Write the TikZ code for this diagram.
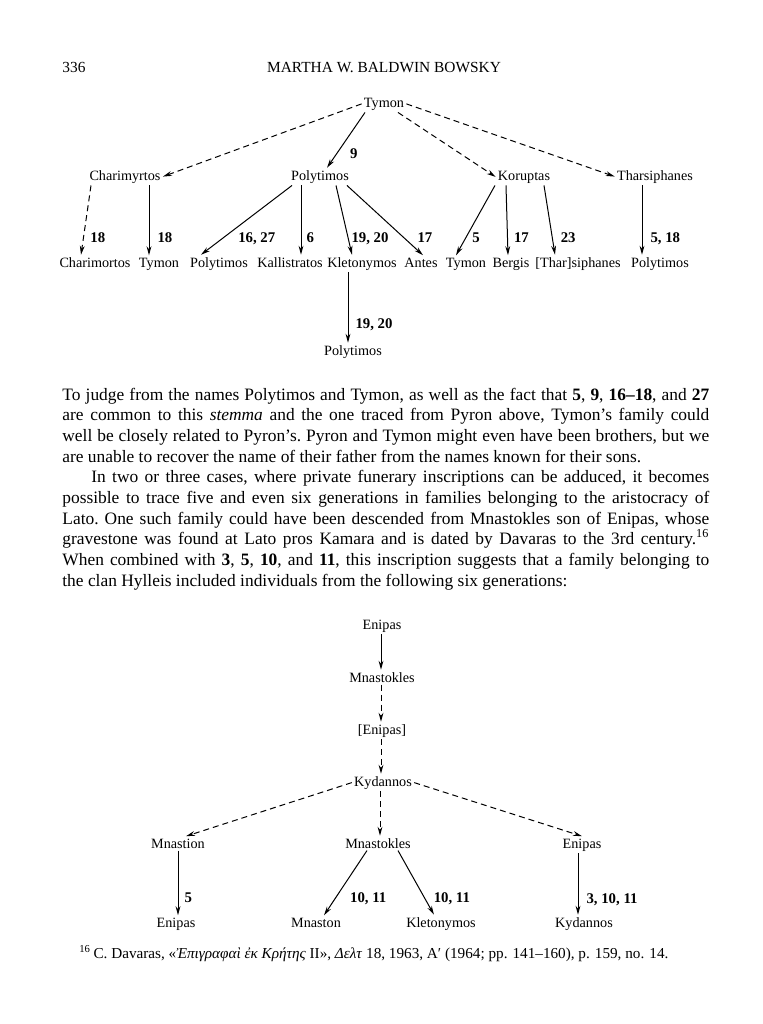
\documentclass[tikz,border=0pt]{standalone}
\usepackage{fontspec}
\setmainfont{Liberation Serif}
\usetikzlibrary{arrows.meta}

\tikzset{
  head/.style={inner sep=0pt, anchor=base, font=\fontsize{7.7}{9}\selectfont},
  person/.style={inner sep=1pt, anchor=base, font=\fontsize{7.1}{9}\selectfont},
  nr/.style={inner sep=1pt, text depth=0pt, font=\fontsize{7.4}{9}\selectfont\bfseries},
  child/.style={-{Stealth[length=4.5pt,width=2.4pt]}, line width=.5pt},
  maybe/.style={child, dash pattern=on 3pt off 2pt},
  body/.style={inner sep=0pt, anchor=base west, text width=323.5pt, align=justify,
    font=\fontsize{8.7}{10.35}\selectfont\frenchspacing},
}

\begin{document}
\begin{tikzpicture}[x=0.5pt,y=-0.5pt]
  \useasboundingbox (0,0) rectangle (762,1024);

  % running head
  \node[head, anchor=base west] (folio) at (62,72) {336};
  \node[head] (author) at (384,72) {MARTHA W. BALDWIN BOWSKY};

  % stemma of Tymon
  \node[person] (tymon) at (384,107) {Tymon};
  \node[person] (charimyrtos) at (125,180) {Charimyrtos};
  \node[person] (polytimosA) at (320,180) {Polytimos};
  \node[person] (koruptas) at (524,180) {Koruptas};
  \node[person] (tharsiphanes) at (655,180) {Tharsiphanes};

  \node[person] (charimortos) at (95,267) {Charimortos};
  \node[person] (tymonB) at (159,267) {Tymon};
  \node[person] (polytimosB) at (219,267) {Polytimos};
  \node[person] (kallistratos) at (290,267) {Kallistratos};
  \node[person] (kletonymosA) at (362,267) {Kletonymos};
  \node[person] (antes) at (421,267) {Antes};
  \node[person] (tymonC) at (466,267) {Tymon};
  \node[person] (bergis) at (511,267) {Bergis};
  \node[person] (tharsiphanesB) at (578,267) {[Thar]siphanes};
  \node[person] (polytimosC) at (660,267) {Polytimos};
  \node[person] (polytimosD) at (353,355) {Polytimos};

  \draw[maybe] (tymon.west) -- (charimyrtos.east);
  \draw[child] (tymon.south west -| 365,0) -- (polytimosA.north -| 327,0)
    node[nr, pos=.75, right=5.5pt] {9};
  \draw[maybe] (tymon.south east -| 398,0) -- (koruptas.west);
  \draw[maybe] (tymon.east) -- (tharsiphanes.west);

  \draw[maybe] (charimyrtos.south -| 91,0) -- (charimortos.north -| 81,0)
    node[nr, pos=.75, right=2.2pt] {18};
  \draw[child] (charimyrtos.south -| 149,0) -- (tymonB.north -| 149,0)
    node[nr, pos=.75, right=3pt] {18};
  \draw[child] (polytimosA.south -| 292,0) -- (polytimosB.north -| 201,0)
    node[nr, pos=.75, right=6pt] {16, 27};
  \draw[child] (polytimosA.south -| 301,0) -- (kallistratos.north -| 301,0)
    node[nr, pos=.75, right=1.5pt] {6};
  \draw[child] (polytimosA.south -| 336,0) -- (kletonymosA.north -| 352,0)
    node[nr, pos=.75, right=.5pt] {19, 20};
  \draw[child] (polytimosA.south -| 347,0) -- (antes.north -| 423,0)
    node[nr, pos=.75, right=5.5pt] {17};
  \draw[child] (koruptas.south -| 495,0) -- (tymonC.north -| 456,0)
    node[nr, pos=.75, right=2pt] {5};
  \draw[child] (koruptas.south -| 506,0) -- (bergis.north -| 508,0)
    node[nr, pos=.75, right=2pt] {17};
  \draw[child] (koruptas.south -| 544,0) -- (tharsiphanesB.north -| 555,0)
    node[nr, pos=.75, right=3pt] {23};
  \draw[child] (tharsiphanes.south -| 642,0) -- (polytimosC.north -| 642,0)
    node[nr, pos=.75, right=3pt] {5, 18};
  \draw[child] (kletonymosA.south -| 348,0) -- (polytimosD.north -| 348,0)
    node[nr, pos=.73, right=2.5pt] {19, 20};

  % text
  \node[body] (text) at (62,400) {To judge from the names Polytimos and Tymon, as well as the fact that \textbf{5}, \textbf{9}, \textbf{16--18}, and \textbf{27}\linebreak
    are common to this \textit{stemma} and the one traced from Pyron above, Tymon’s family could\linebreak
    well be closely related to Pyron’s. Pyron and Tymon might even have been brothers, but we\linebreak
    are unable to recover the name of their father from the names known for their sons.\par
    \hspace*{14.5pt}In two or three cases, where private funerary inscriptions can be adduced, it becomes\linebreak
    possible to trace five and even six generations in families belonging to the aristocracy of\linebreak
    Lato. One such family could have been descended from Mnastokles son of Enipas, whose\linebreak
    gravestone was found at Lato pros Kamara and is dated by Davaras to the 3rd century.\textsuperscript{16}\linebreak
    When combined with \textbf{3}, \textbf{5}, \textbf{10}, and \textbf{11}, this inscription suggests that a family belonging to\linebreak
    the clan Hylleis included individuals from the following six generations:\par};

  % stemma of Enipas
  \node[person] (enipasA) at (382,629) {Enipas};
  \node[person] (mnastoklesA) at (382,682) {Mnastokles};
  \node[person] (enipasB) at (382,734) {[Enipas]};
  \node[person] (kydannosA) at (383,786) {Kydannos};
  \node[person] (mnastion) at (178,848) {Mnastion};
  \node[person] (mnastoklesB) at (378,848) {Mnastokles};
  \node[person] (enipasC) at (582,848) {Enipas};
  \node[person] (enipasD) at (176,927) {Enipas};
  \node[person] (mnaston) at (316,927) {Mnaston};
  \node[person] (kletonymosB) at (441,927) {Kletonymos};
  \node[person] (kydannosB) at (584,927) {Kydannos};

  \draw[child] (enipasA.south -| 381,0) -- (mnastoklesA.north -| 381,0);
  \draw[maybe] (mnastoklesA.south -| 381,0) -- (enipasB.north -| 381,0);
  \draw[maybe] (enipasB.south -| 381,0) -- (kydannosA.north -| 381,0);
  \draw[maybe] (kydannosA.west) -- (mnastion.north -| 186,0);
  \draw[maybe] (kydannosA.south -| 380,0) -- (mnastoklesB.north -| 380,0);
  \draw[maybe] (kydannosA.east) -- (enipasC.north);
  \draw[child] (mnastion.south -| 178,0) -- (enipasD.north -| 178,0)
    node[nr, pos=.73, right=2pt] {5};
  \draw[child] (mnastoklesB.south -| 367,0) -- (mnaston.north -| 324,0)
    node[nr, pos=.73, right=6pt] {10, 11};
  \draw[child] (mnastoklesB.south -| 398,0) -- (kletonymosB.north -| 434,0)
    node[nr, pos=.73, right=3.5pt] {10, 11};
  \draw[child] (enipasC.south -| 578,0) -- (kydannosB.north -| 578,0)
    node[nr, pos=.73, right=3pt] {3, 10, 11};

  % footnote
  \node[inner sep=0pt, anchor=base west, font=\fontsize{7.6}{9}\selectfont] (note) at (79,958)
    {\textsuperscript{16}\,C. Davaras, «\textit{Ἐπιγραφαὶ ἐκ Κρήτης} II», \textit{Δελτ} 18, 1963, Α′ (1964; pp. 141--160), p. 159, no. 14.};
\end{tikzpicture}
\end{document}
